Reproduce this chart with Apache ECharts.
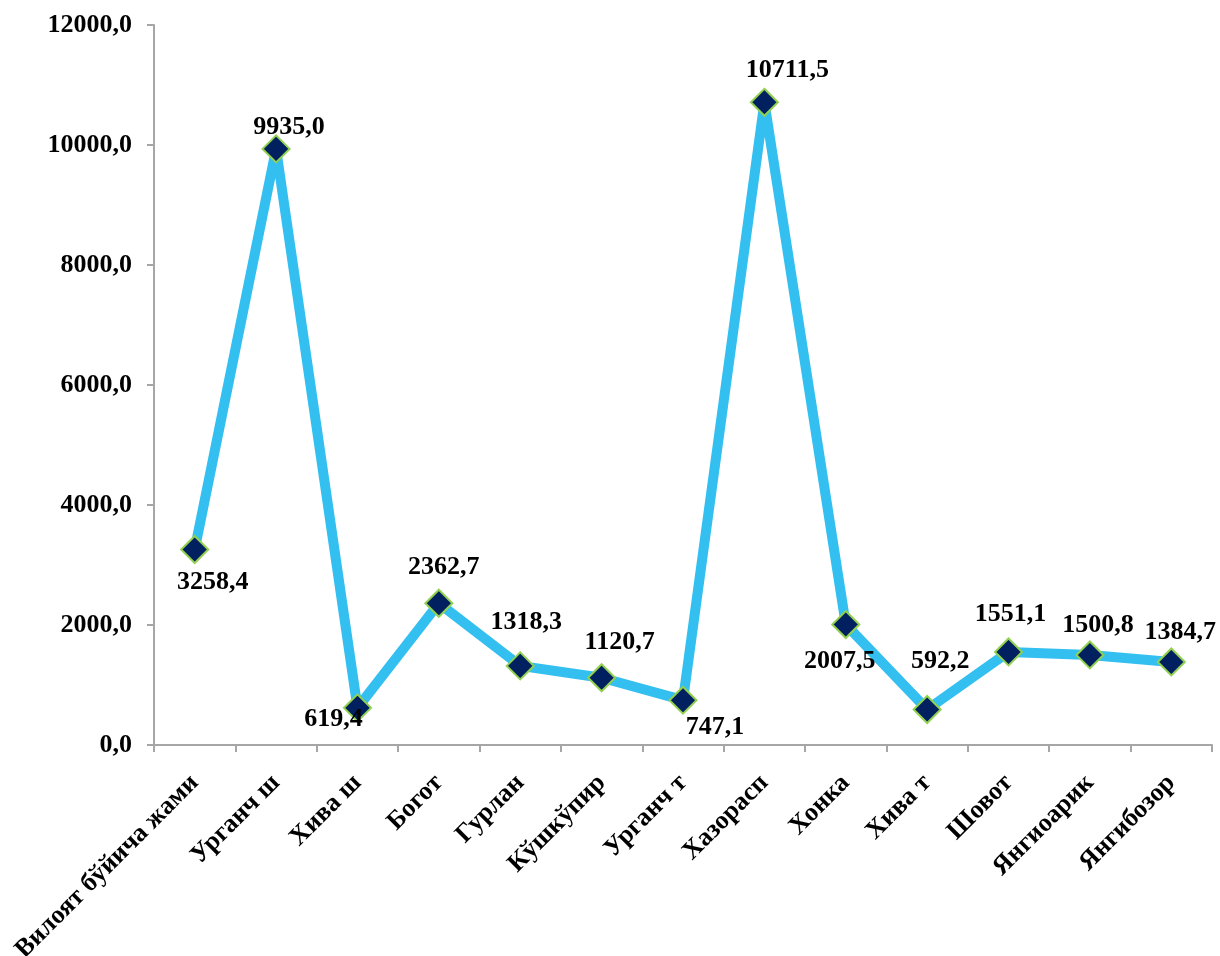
<!DOCTYPE html>
<html>
<head>
<meta charset="utf-8">
<script src="https://cdn.jsdelivr.net/npm/echarts@6/dist/echarts.min.js"></script>
<style>
html,body{margin:0;padding:0;background:#fff;}
#chart{width:1220px;height:956px;}
</style>
</head>
<body>
<div id="chart"></div>
<script>
const categories = ['Вилоят бўйича жами','Урганч ш','Хива ш','Богот','Гурлан','Кўшкўпир','Урганч т','Хазорасп','Хонка','Хива т','Шовот','Янгиоарик','Янгибозор'];
const values = [3258.4, 9935.0, 619.4, 2362.7, 1318.3, 1120.7, 747.1, 10711.5, 2007.5, 592.2, 1551.1, 1500.8, 1384.7];
const yTicks = {min: 0, max: 12000, interval: 2000};

// label placement offsets (style only)
const labelOffsets = [[18,33],[13,-22],[-24,11],[5,-36],[6,-44],[18,-35],[32,27],[23,-32],[-6,37],[13,-48],[2,-38],[8,-30],[9,-30]];

const fmt = v => v.toFixed(1).replace('.', ',');
const FONT = '"Liberation Serif", "Times New Roman", serif';

const chart = echarts.init(document.getElementById('chart'), null, {renderer: 'canvas'});
chart.setOption({
  animation: false,
  backgroundColor: '#ffffff',
  grid: {left: 154, right: 8, top: 25, bottom: 211, containLabel: false, outerBoundsMode: 'none'},
  xAxis: {
    type: 'category',
    data: categories,
    boundaryGap: true,
    axisLine: {lineStyle: {color: '#a6a6a6', width: 2}},
    axisTick: {show: true, alignWithLabel: false, length: 7, lineStyle: {color: '#a6a6a6', width: 2}},
    axisLabel: {
      interval: 0, rotate: 45, margin: 34,
      fontFamily: FONT, fontWeight: 'bold', fontSize: 26, color: '#000'
    },
    splitLine: {show: false}
  },
  yAxis: {
    type: 'value',
    min: yTicks.min, max: yTicks.max, interval: yTicks.interval,
    axisLine: {show: true, lineStyle: {color: '#a6a6a6', width: 2}},
    axisTick: {show: true, length: 7, lineStyle: {color: '#a6a6a6', width: 2}},
    axisLabel: {
      margin: 22, formatter: v => fmt(v),
      fontFamily: FONT, fontWeight: 'bold', fontSize: 26, color: '#000'
    },
    splitLine: {show: false}
  },
  series: [{
    type: 'line',
    data: values.map((v, i) => ({
      value: v,
      label: {offset: labelOffsets[i]}
    })),
    lineStyle: {color: '#33bff0', width: 10},
    symbol: 'diamond',
    symbolSize: [27, 27],
    itemStyle: {color: '#002060', borderColor: '#92d050', borderWidth: 2},
    label: {
      show: true, position: 'inside',
      formatter: p => fmt(p.value),
      fontFamily: FONT, fontWeight: 'bold', fontSize: 26, color: '#000'
    },
    z: 3
  }]
});
</script>
</body>
</html>
